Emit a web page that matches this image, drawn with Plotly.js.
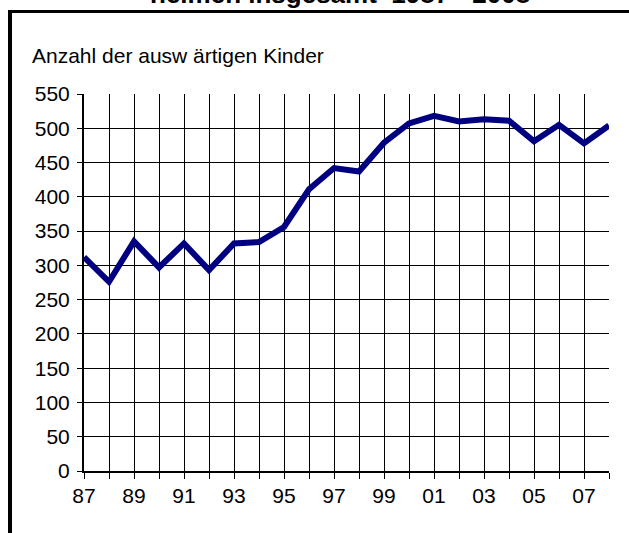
<!DOCTYPE html>
<html>
<head>
<meta charset="utf-8">
<script src="https://cdn.plot.ly/plotly-3.0.1.min.js"></script>
<style>
  html, body { margin: 0; padding: 0; background: #fff; overflow: hidden; }
  #chart { width: 629px; height: 533px; position: relative; }
  #frame { position: absolute; left: 8px; top: 10px; width: 700px; height: 600px;
           border-left: 4px solid #000; border-top: 3px solid #000; pointer-events: none; }
</style>
</head>
<body>
<div id="chart"></div>
<div id="frame"></div>
<script>
const years = [1987,1988,1989,1990,1991,1992,1993,1994,1995,1996,1997,1998,1999,2000,2001,2002,2003,2004,2005,2006,2007,2008];
const kinder = [312,276,335,297,332,293,332,334,356,411,442,437,479,507,518,510,513,511,481,505,478,504];
const xTickVals = [1987,1989,1991,1993,1995,1997,1999,2001,2003,2005,2007];
const xTickText = ["87","89","91","93","95","97","99","01","03","05","07"];
const yTickVals = [0,50,100,150,200,250,300,350,400,450,500,550];
const titleText = "heimen insgesamt  1987 - 2008";
const yLabelText = "Anzahl der ausw ärtigen Kinder";

const font = "Liberation Sans, Arial, sans-serif";

Plotly.newPlot("chart", [{
  x: years, y: kinder, type: "scatter", mode: "lines",
  line: { color: "#000080", width: 6 }, hoverinfo: "none"
}], {
  width: 629, height: 533,
  margin: { l: 84, r: 20, t: 94, b: 62 },
  paper_bgcolor: "#fff", plot_bgcolor: "#fff",
  showlegend: false,
  font: { family: font, size: 21, color: "#000" },
  xaxis: {
    range: [1987, 2008], tickmode: "array", tickvals: xTickVals, ticktext: xTickText,
    ticks: "outside", ticklen: 6, tickcolor: "#000", tickwidth: 1,
    showgrid: true, gridcolor: "#000", gridwidth: 1,
    minor: { dtick: 1, tick0: 1987, showgrid: true, gridcolor: "#000", gridwidth: 1, ticks: "outside", ticklen: 6, tickcolor: "#000" },
    showline: true, linecolor: "#000", linewidth: 2, zeroline: false,
    ticklabelstandoff: -1, tickfont: { size: 21 }, fixedrange: true
  },
  yaxis: {
    range: [0, 550], tickmode: "array", tickvals: yTickVals,
    ticks: "outside", ticklen: 5, tickcolor: "#000",
    showgrid: true, gridcolor: "#000", gridwidth: 1,
    showline: true, linecolor: "#000", linewidth: 2, zeroline: false,
    ticklabelstandoff: 3, tickfont: { size: 21 }, fixedrange: true
  },
  annotations: [
    { text: yLabelText, xref: "paper", yref: "paper", x: -0.102, y: 1.067, xanchor: "left", yanchor: "bottom",
      showarrow: false, font: { size: 21, family: font } },
    { text: "<b>" + titleText + "</b>", xref: "paper", yref: "paper", x: 0.487, y: 1.220, xanchor: "center", yanchor: "bottom",
      showarrow: false, font: { size: 26, family: font } }
  ]
}, { displayModeBar: false, staticPlot: true });
</script>
</body>
</html>
